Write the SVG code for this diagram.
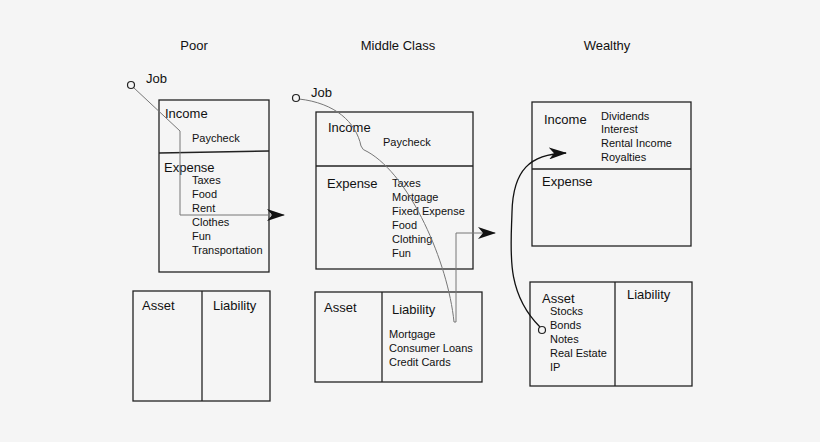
<svg xmlns="http://www.w3.org/2000/svg" width="820" height="442" viewBox="0 0 820 442">
<defs>
<style>
text{font-family:"Liberation Sans",Arial,sans-serif;fill:#111}
.h{font-size:13px}
.s{font-size:11px}
.box{fill:none;stroke:#222;stroke-width:1.3}
.div{stroke:#222;stroke-width:1.3}
.gray{fill:none;stroke:#777;stroke-width:1}
.blk{fill:none;stroke:#111;stroke-width:1.3}
.dot{fill:#f5f5f5;stroke:#222;stroke-width:1.2}
</style>
<marker id="arr" viewBox="0 0 18 12" refX="17" refY="6" markerWidth="18" markerHeight="12" markerUnits="userSpaceOnUse" orient="auto">
<path d="M0,0 L18,6 L0,12 L5,6 Z" fill="#111"/>
</marker>
</defs>
<rect width="820" height="442" fill="#f5f5f5"/>
<g id="headings">
<text class="h" x="194" y="50" text-anchor="middle">Poor</text>
<text class="h" x="398" y="50" text-anchor="middle">Middle Class</text>
<text class="h" x="607" y="50" text-anchor="middle">Wealthy</text>
</g>
<g id="poor-ie">
<rect class="box" x="159" y="100" width="110" height="172"/>
<line class="div" x1="159" y1="153" x2="269" y2="151"/>
<text class="h" x="165" y="118">Income</text>
<text class="s" x="192" y="142">Paycheck</text>
<text class="h" x="164" y="172">Expense</text>
<text class="s" x="192" y="184">Taxes</text>
<text class="s" x="192" y="198">Food</text>
<text class="s" x="192" y="212">Rent</text>
<text class="s" x="192" y="226">Clothes</text>
<text class="s" x="192" y="240">Fun</text>
<text class="s" x="192" y="254">Transportation</text>
</g>
<g id="poor-al">
<rect class="box" x="133" y="291" width="137" height="110"/>
<line class="div" x1="202" y1="291" x2="202" y2="401"/>
<text class="h" x="142" y="310">Asset</text>
<text class="h" x="213" y="310">Liability</text>
</g>
<g id="mid-ie">
<rect class="box" x="316" y="112" width="157" height="157"/>
<line class="div" x1="316" y1="166" x2="473" y2="166"/>
<text class="h" x="328" y="132">Income</text>
<text class="s" x="383" y="146">Paycheck</text>
<text class="h" x="327" y="188">Expense</text>
<text class="s" x="392" y="187">Taxes</text>
<text class="s" x="392" y="201">Mortgage</text>
<text class="s" x="392" y="215">Fixed Expense</text>
<text class="s" x="392" y="229">Food</text>
<text class="s" x="392" y="243">Clothing</text>
<text class="s" x="392" y="257">Fun</text>
</g>
<g id="mid-al">
<rect class="box" x="315" y="292" width="167" height="90"/>
<line class="div" x1="382" y1="292" x2="382" y2="382"/>
<text class="h" x="324" y="312">Asset</text>
<text class="h" x="392" y="314">Liability</text>
<text class="s" x="389" y="338">Mortgage</text>
<text class="s" x="389" y="352">Consumer Loans</text>
<text class="s" x="389" y="366">Credit Cards</text>
</g>
<g id="rich-ie">
<rect class="box" x="532" y="102" width="159" height="144"/>
<line class="div" x1="532" y1="169" x2="691" y2="169"/>
<text class="h" x="544" y="124">Income</text>
<text class="s" x="601" y="120">Dividends</text>
<text class="s" x="601" y="133">Interest</text>
<text class="s" x="601" y="147">Rental Income</text>
<text class="s" x="601" y="161">Royalties</text>
<text class="h" x="542" y="186">Expense</text>
</g>
<g id="rich-al">
<rect class="box" x="530" y="282" width="162" height="104"/>
<line class="div" x1="615" y1="282" x2="615" y2="386"/>
<text class="h" x="542" y="303">Asset</text>
<text class="h" x="627" y="299">Liability</text>
<text class="s" x="550" y="315">Stocks</text>
<text class="s" x="550" y="329">Bonds</text>
<text class="s" x="550" y="343">Notes</text>
<text class="s" x="550" y="357">Real Estate</text>
<text class="s" x="550" y="371">IP</text>
</g>
<g id="connectors">
<path class="gray" d="M133.5,87.5 L180,131 L180,215 L284,215" marker-end="url(#arr)"/>
<path class="gray" d="M299,99 C335,103 356,122 361,146 Q362,150 368,152 C410,176 448,262 454,322 L456,322 L456,233 L495,233" marker-end="url(#arr)"/>
<path class="blk" d="M540,327 C505,292 511,250 512,212 C513,170 530,154 566,153" marker-end="url(#arr)"/>
<text class="h" x="146" y="83">Job</text>
<text class="h" x="311" y="97">Job</text>
<circle class="dot" cx="131" cy="85" r="3.5"/>
<circle class="dot" cx="296" cy="98" r="3.5"/>
<circle class="dot" cx="542" cy="330" r="3.5"/>
</g>
</svg>
